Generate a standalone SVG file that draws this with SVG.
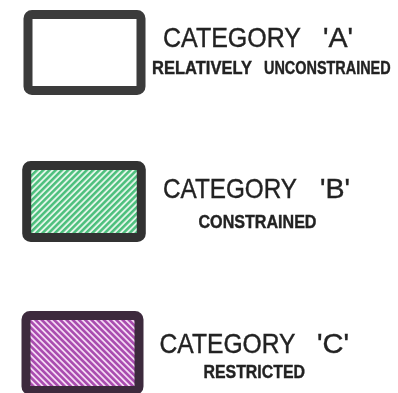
<svg xmlns="http://www.w3.org/2000/svg" width="398" height="393" viewBox="0 0 398 393">
  <defs>
    <pattern id="hatchB" patternUnits="userSpaceOnUse" width="4.4" height="10" patternTransform="rotate(45)">
      <rect width="4.4" height="10" fill="#e3f5e9"/>
      <rect width="2.5" height="10" fill="#4cbf7c"/>
    </pattern>
    <pattern id="hatchC" patternUnits="userSpaceOnUse" width="4.4" height="10" patternTransform="rotate(-45)">
      <rect width="4.4" height="10" fill="#f3d9f3"/>
      <rect width="2.6" height="10" fill="#a94caf"/>
    </pattern>
    <filter id="soft" x="-5%" y="-5%" width="110%" height="110%">
      <feGaussianBlur stdDeviation="0.5"/>
    </filter>
  </defs>
  <style>
    .box { stroke-width: 9; }
    .title { font-family: "Liberation Sans", Arial, sans-serif; font-size: 28px; fill: #222; stroke: #222; stroke-width: 0.4; }
    .sub { font-family: "Liberation Sans", Arial, sans-serif; font-size: 19px; font-weight: bold; fill: #222; stroke: #222; stroke-width: 0.4; }
  </style>
  <rect width="398" height="393" fill="#ffffff"/>
  <g filter="url(#soft)">
    <g id="category-a">
      <rect class="box" x="28" y="14.5" width="113" height="76" rx="4" fill="#ffffff" stroke="#3a3a3a"/>
      <text class="title" x="163" y="46.7" textLength="138" lengthAdjust="spacingAndGlyphs">CATEGORY</text>
      <text class="title" x="323" y="46.7" textLength="30" lengthAdjust="spacingAndGlyphs">'A'</text>
      <text class="sub" x="152" y="74" textLength="100" lengthAdjust="spacingAndGlyphs">RELATIVELY</text>
      <text class="sub" transform="translate(264 74) scale(0.76 1)" x="0" y="0">UNCONSTRAINED</text>
    </g>
    <g id="category-b">
      <rect class="box" x="26.7" y="165.5" width="114.6" height="72" rx="4" fill="url(#hatchB)" stroke="#333333"/>
      <text class="title" x="163" y="198.3" textLength="134" lengthAdjust="spacingAndGlyphs">CATEGORY</text>
      <text class="title" x="320" y="198.3" textLength="30" lengthAdjust="spacingAndGlyphs">'B'</text>
      <text class="sub" x="198.5" y="228" textLength="118" lengthAdjust="spacingAndGlyphs">CONSTRAINED</text>
    </g>
    <g id="category-c">
      <rect class="box" x="26" y="315.5" width="113" height="75" rx="4" fill="url(#hatchC)" stroke="#3d2b3d"/>
      <text class="title" x="159.5" y="353.3" textLength="136" lengthAdjust="spacingAndGlyphs">CATEGORY</text>
      <text class="title" x="317" y="353.3" textLength="32" lengthAdjust="spacingAndGlyphs">'C'</text>
      <text class="sub" x="203.5" y="378" textLength="101.5" lengthAdjust="spacingAndGlyphs">RESTRICTED</text>
    </g>
  </g>
</svg>
